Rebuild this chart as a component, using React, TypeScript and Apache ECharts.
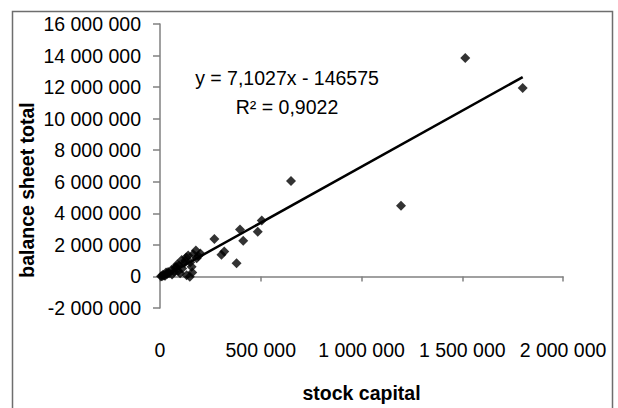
import React, { useEffect, useRef } from "react";
import * as echarts from "echarts";

// Stock capital (x) versus balance sheet total (y) for each company
const stockCapital = [
  1515000, 1800000, 1196000, 650000, 505000, 485000, 397000, 413000, 270000, 319000,
  305000, 380000, 200000, 178000, 182000, 157000, 160000, 132000, 140000, 108000,
  120000, 95000, 80000, 58000, 70000, 45000, 25000, 15000, 35000, 10000,
  60000, 90000, 110000, 150000, 130000, 5000, 40000, 100000, 165000, 75000,
  148000, 20000, 125000, 85000, 190000, 30000,
];
const balanceSheetTotal = [
  13850000, 11950000, 4480000, 6050000, 3550000, 2830000, 2980000, 2260000, 2380000, 1580000,
  1380000, 840000, 1450000, 1650000, 1150000, 620000, 250000, 80000, 1320000, 1050000,
  850000, 700000, 600000, 430000, 300000, 200000, 50000, 100000, 150000, 20000,
  120000, 350000, 500000, 900000, 1200000, 10000, 280000, 200000, 1400000, 550000,
  -20000, 60000, 1000000, 750000, 1300000, 250000,
];

// Linear trend line reported for the data
const slope = 7.1027;
const intercept = -146575;
const rSquared = "0,9022";

const yTicks = { min: -2000000, max: 16000000, interval: 2000000 };
const xTicks = { min: 0, max: 2000000, interval: 500000 };

const FONT = "'Liberation Sans', Arial, sans-serif";

const spaced = (v: number) =>
  String(v).replace(/\B(?=(\d{3})+(?!\d))/g, " ");

export default function App() {
  const ref = useRef<HTMLDivElement>(null);

  useEffect(() => {
    if (!ref.current) return;
    const chart = echarts.init(ref.current, undefined, { renderer: "svg" });

    const points = stockCapital.map((x, i) => [x, balanceSheetTotal[i]]);
    const xMin = Math.min(...stockCapital);
    const xMax = Math.max(...stockCapital);
    const trend = [
      [xMin, slope * xMin + intercept],
      [xMax, slope * xMax + intercept],
    ];

    chart.setOption({
      animation: false,
      backgroundColor: "#ffffff",
      grid: { left: 160, right: 55, top: 24, bottom: 47 },
      xAxis: {
        type: "value",
        min: xTicks.min,
        max: xTicks.max,
        interval: xTicks.interval,
        name: "stock capital",
        nameLocation: "middle",
        nameGap: 75,
        nameTextStyle: { fontFamily: FONT, fontSize: 19.5, fontWeight: "bold", color: "#000" },
        axisLine: { onZero: true, lineStyle: { color: "#808080", width: 1.5 } },
        axisTick: { show: true, length: 5, lineStyle: { color: "#808080", width: 1.5 } },
        axisLabel: {
          margin: 32,
          fontFamily: FONT,
          fontSize: 19.5,
          color: "#000",
          formatter: (v: number) => spaced(v),
        },
        splitLine: { show: false },
      },
      yAxis: {
        type: "value",
        min: yTicks.min,
        max: yTicks.max,
        interval: yTicks.interval,
        axisLine: { show: true, onZero: false, lineStyle: { color: "#808080", width: 1.5 } },
        axisTick: { show: true, length: 7, lineStyle: { color: "#808080", width: 1.5 } },
        axisLabel: {
          margin: 19,
          fontFamily: FONT,
          fontSize: 19.5,
          color: "#000",
          formatter: (v: number) => spaced(v),
        },
        splitLine: { show: false },
      },
      series: [
        {
          type: "scatter",
          data: points,
          symbol: "diamond",
          symbolSize: 10,
          itemStyle: { color: "#000" },
        },
        {
          type: "line",
          data: trend,
          symbol: "none",
          lineStyle: { color: "#000", width: 2.5 },
        },
      ],
      graphic: [
        {
          type: "rect",
          shape: { x: 12.5, y: 11.5, width: 600, height: 420 },
          style: { fill: "none", stroke: "#6e6e6e", lineWidth: 1.5 },
          silent: true,
        },
        {
          type: "text",
          x: 27,
          y: 190,
          rotation: Math.PI / 2,
          style: {
            text: "balance sheet total",
            fontFamily: FONT,
            fontSize: 19.5,
            fontWeight: "bold",
            fill: "#000",
            align: "center",
            verticalAlign: "middle",
          },
        },
        {
          type: "text",
          x: 287,
          y: 78,
          style: {
            text: `y = ${String(slope).replace(".", ",")}x - ${Math.abs(intercept)}`,
            fontFamily: FONT,
            fontSize: 19.5,
            fill: "#000",
            align: "center",
            verticalAlign: "middle",
          },
        },
        {
          type: "text",
          x: 287,
          y: 107,
          style: {
            text: `R² = ${rSquared}`,
            fontFamily: FONT,
            fontSize: 19.5,
            fill: "#000",
            align: "center",
            verticalAlign: "middle",
          },
        },
      ],
    });

    return () => chart.dispose();
  }, []);

  return (
    <div
      ref={ref}
      style={{ position: "fixed", left: 0, top: 0, width: 618, height: 408 }}
    />
  );
}
